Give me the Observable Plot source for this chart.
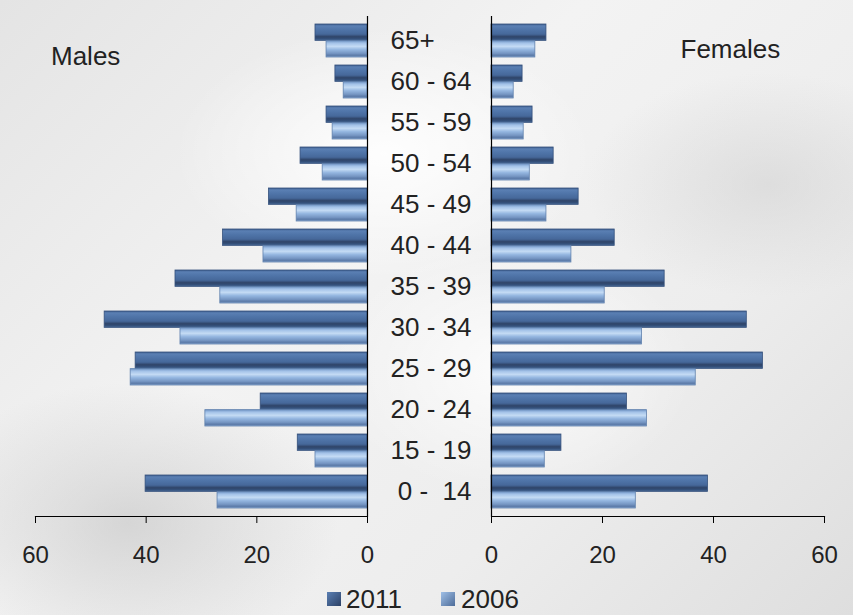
<!DOCTYPE html>
<html>
<head>
<meta charset="utf-8">
<script src="https://cdn.jsdelivr.net/npm/d3@7"></script>
<script src="https://cdn.jsdelivr.net/npm/@observablehq/plot@0.6"></script>
<style>
  html, body { margin: 0; padding: 0; }
  body {
    width: 853px; height: 615px; overflow: hidden;
    font-family: "Liberation Sans", Arial, sans-serif;
    background:
      radial-gradient(ellipse 300px 200px at 15% 85%, rgba(190,190,190,0.55), rgba(190,190,190,0) 70%),
      radial-gradient(ellipse 260px 160px at 90% 30%, rgba(205,205,205,0.5), rgba(205,205,205,0) 70%),
      radial-gradient(ellipse 300px 180px at 45% 25%, rgba(255,255,255,0.9), rgba(255,255,255,0) 70%),
      radial-gradient(ellipse 260px 180px at 60% 60%, rgba(255,255,255,0.8), rgba(255,255,255,0) 70%),
      linear-gradient(135deg, #e4e4e4 0%, #f3f3f3 40%, #ededed 70%, #dedede 100%);
  }
  #wrap { position: relative; width: 853px; height: 615px; }
  #wrap svg.plot { position: absolute; left: 0; top: 0; }
  #wrap svg text { white-space: pre; }
  .lbl { position: absolute; font-size: 26px; line-height: 26px; color: #222; white-space: pre; }
  .sw { position: absolute; width: 14px; height: 14px; box-sizing: border-box; }
</style>
</head>
<body>
<div id="wrap">
  <svg width="0" height="0" style="position:absolute;left:0;top:0">
    <defs>
      <linearGradient id="g2011" x1="0" y1="0" x2="0" y2="1">
        <stop offset="0" stop-color="#3f5f8f"/>
        <stop offset="0.12" stop-color="#5a7fb3"/>
        <stop offset="0.35" stop-color="#4f74a8"/>
        <stop offset="0.62" stop-color="#46689a"/>
        <stop offset="0.78" stop-color="#2f4468"/>
        <stop offset="0.9" stop-color="#34507a"/>
        <stop offset="1" stop-color="#4a6b98"/>
      </linearGradient>
      <linearGradient id="g2006" x1="0" y1="0" x2="0" y2="1">
        <stop offset="0" stop-color="#6f92c2"/>
        <stop offset="0.15" stop-color="#a3c2e8"/>
        <stop offset="0.35" stop-color="#c4dbf4"/>
        <stop offset="0.55" stop-color="#94b6e0"/>
        <stop offset="0.78" stop-color="#7595c2"/>
        <stop offset="0.9" stop-color="#5b7aa8"/>
        <stop offset="1" stop-color="#8aa7cf"/>
      </linearGradient>
      <linearGradient id="s2011" x1="0" y1="0" x2="1" y2="1">
        <stop offset="0" stop-color="#5a7fb3"/>
        <stop offset="1" stop-color="#2c4166"/>
      </linearGradient>
      <linearGradient id="s2006" x1="0" y1="0" x2="1" y2="1">
        <stop offset="0" stop-color="#a8c6ea"/>
        <stop offset="1" stop-color="#4d6c99"/>
      </linearGradient>
    </defs>
  </svg>
  <div class="lbl" style="left:51px;top:42.6px">Males</div>
  <div class="lbl" style="left:680.5px;top:35.6px">Females</div>
  <div class="sw" style="left:327px;top:592px;background:url(#s2011);background:linear-gradient(135deg,#5a7fb3,#2c4166);"></div>
  <div class="lbl" style="left:346px;top:586px">2011</div>
  <div class="sw" style="left:441px;top:592px;background:linear-gradient(135deg,#9fbfe6,#4d6c99);"></div>
  <div class="lbl" style="left:461px;top:586px">2006</div>
</div>
<script>
// Age groups, top to bottom
const ages = ["65+", "60 - 64", "55 - 59", "50 - 54", "45 - 49", "40 - 44", "35 - 39", "30 - 34", "25 - 29", "20 - 24", "15 - 19", " 0 -  14"];
const years = ["2011", "2006"];
const males2011   = [9.4, 5.8, 7.4, 12.1, 17.8, 26.1, 34.7, 47.5, 41.9, 19.3, 12.6, 40.1];
const males2006   = [7.4, 4.3, 6.3, 8.1, 12.8, 18.8, 26.6, 33.8, 42.8, 29.3, 9.4, 27.1];
const females2011 = [9.9, 5.6, 7.4, 11.2, 15.7, 22.2, 31.2, 46.0, 48.9, 24.4, 12.6, 39.0];
const females2006 = [7.9, 4.0, 5.8, 6.9, 9.9, 14.4, 20.4, 27.1, 36.8, 28.0, 9.6, 26.0];
const xTicks = [0, 20, 40, 60];

const rows = (vals, year) => vals.map((v, i) => ({age: ages[i], year, value: v}));
const male = [...rows(males2011, "2011"), ...rows(males2006, "2006")];
const female = [...rows(females2011, "2011"), ...rows(females2006, "2006")];

const W = 853, H = 575, MT = 16, MB = 59;
const HALF = 16.65;

function panel(data, opts) {
  return Plot.plot({
    width: W, height: H,
    marginTop: MT, marginBottom: MB,
    marginLeft: opts.ml, marginRight: opts.mr,
    style: {background: "transparent", fontFamily: "'Liberation Sans', Arial, sans-serif", color: "#222", overflow: "visible"},
    x: {domain: [0, 60], reverse: opts.reverse},
    y: {domain: ages, type: "band", paddingInner: 0.2, paddingOuter: 0.1, axis: null},
    marks: [
      Plot.barX(data.filter(d => d.year === "2011"), {x: "value", y: "age", insetBottom: HALF, fill: "url(#g2011)", stroke: "#34507c", strokeWidth: 0.8}),
      Plot.barX(data.filter(d => d.year === "2006"), {x: "value", y: "age", insetTop: HALF, fill: "url(#g2006)", stroke: "#5f80ad", strokeWidth: 0.8}),
      Plot.ruleX([0], {stroke: "#000", strokeWidth: 1.2}),
      Plot.frame({anchor: "bottom", stroke: "#000", strokeWidth: 1.2}),
      Plot.axisX({ticks: xTicks, tickSize: 7, tickPadding: 22, fontSize: 24, tickFormat: d => String(d), stroke: "#000", fill: "#222", label: null}),
      ...(opts.labels ? [Plot.text(ages, {y: d => d, x: () => 0, text: d => d, textAnchor: "start", dx: 23, fontSize: 26, fill: "#222"})] : [])
    ]
  });
}

const left = panel(male, {ml: 35, mr: W - 367, reverse: true, labels: true});
const right = panel(female, {ml: 491, mr: W - 824, reverse: false, labels: false});
left.classList.add("plot");
right.classList.add("plot");
const wrap = document.getElementById("wrap");
wrap.appendChild(left);
wrap.appendChild(right);
</script>
</body>
</html>
